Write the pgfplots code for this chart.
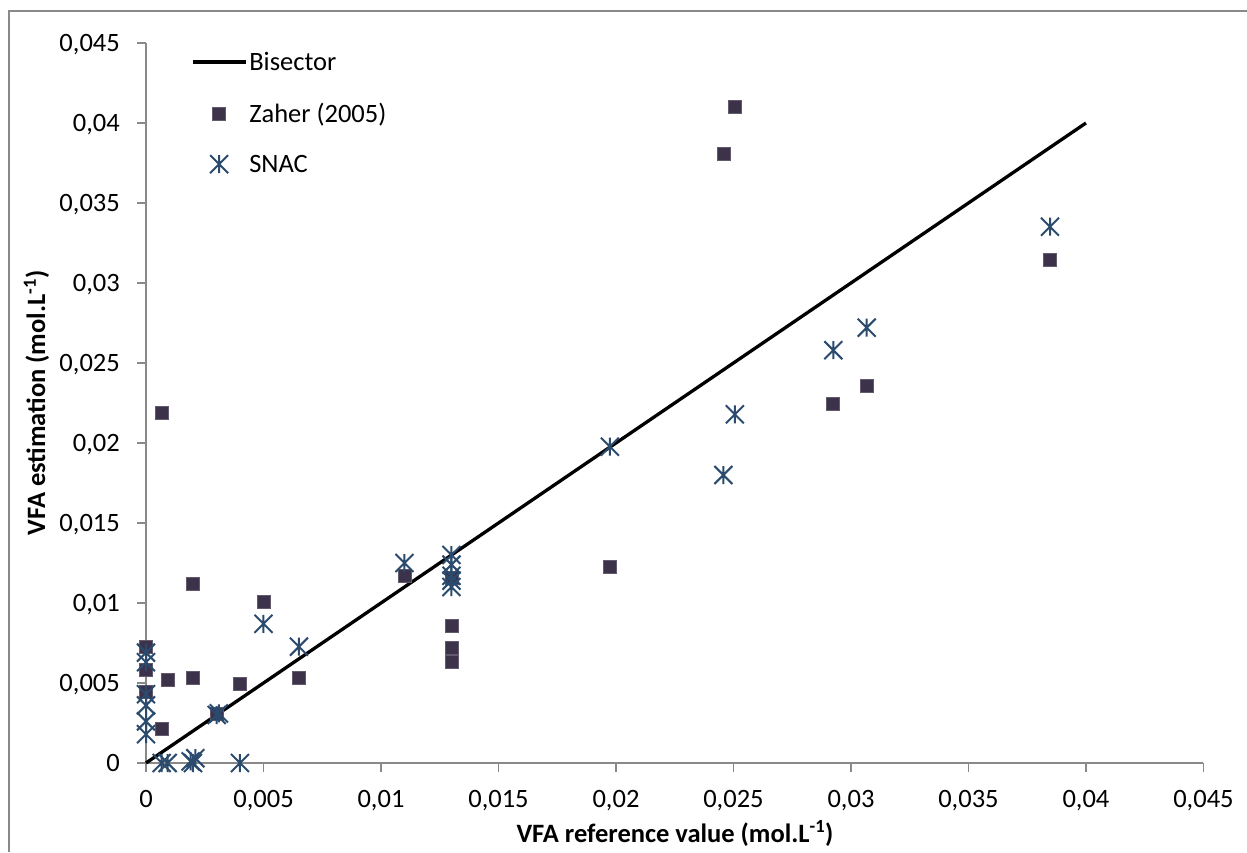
\documentclass[border=0pt]{standalone}
\usepackage{fontspec}
\setmainfont{Carlito}
\usepackage{pgfplots}
\pgfplotsset{compat=1.18}

\definecolor{zaher}{HTML}{3C3249}
\definecolor{snac}{HTML}{2A4A6E}
\definecolor{axisgray}{HTML}{898989}

\newcommand\chartfont{\fontsize{26.5}{31}\selectfont}

% Excel-like star: an X with a vertical bar
\pgfdeclareplotmark{xstar}{%
  \pgfpathmoveto{\pgfqpoint{-\pgfplotmarksize}{-\pgfplotmarksize}}%
  \pgfpathlineto{\pgfqpoint{\pgfplotmarksize}{\pgfplotmarksize}}%
  \pgfpathmoveto{\pgfqpoint{-\pgfplotmarksize}{\pgfplotmarksize}}%
  \pgfpathlineto{\pgfqpoint{\pgfplotmarksize}{-\pgfplotmarksize}}%
  \pgfpathmoveto{\pgfqpoint{0pt}{-\pgfplotmarksize}}%
  \pgfpathlineto{\pgfqpoint{0pt}{\pgfplotmarksize}}%
  \pgfusepathqstroke}

\begin{document}
\begin{tikzpicture}
\useasboundingbox (0pt,0pt) rectangle (1247pt,852pt);
\fill[white] (0pt,0pt) rectangle (1247pt,852pt);
\draw[axisgray, line width=1.5pt] (9pt,0pt) -- (9pt,841pt) -- (1247pt,841pt);

\begin{axis}[
    at={(146pt,89pt)}, anchor=south west,
    scale only axis,
    width=1057.5pt, height=720pt,
    xmin=0, xmax=0.045, ymin=0, ymax=0.045,
    enlargelimits=false,
    scaled ticks=false,
    axis lines=left,
    axis line style={-, draw=axisgray, line width=1.5pt},
    tick style={draw=axisgray, line width=1.5pt},
    tick align=outside,
    major tick length=9pt,
    clip=false,
    xtick={0,0.005,...,0.045},
    ytick={0,0.005,...,0.045},
    xticklabels={0,{0,005},{0,01},{0,015},{0,02},{0,025},{0,03},{0,035},{0,04},{0,045}},
    yticklabels={0,{0,005},{0,01},{0,015},{0,02},{0,025},{0,03},{0,035},{0,04},{0,045}},
    tick label style={font=\chartfont, inner sep=0pt},
    xticklabel style={anchor=north, yshift=-18pt},
    yticklabel style={anchor=east, text depth=0pt, xshift=-17pt},
    legend cell align=left,
    legend style={at={(axis description cs:0.0395,0.993)}, anchor=north west,
        draw=none, fill=none, font=\chartfont, row sep=27pt,
        nodes={inner sep=2pt}},
    legend image code/.code={%
        \draw[mark repeat=2, mark phase=2, #1]
        plot coordinates {(0pt,0pt) (26.5pt,0pt) (53pt,0pt)};},
]
\addplot[black, line width=3.3pt] coordinates {(0,0) (0.04,0.04)};
\addlegendentry{Bisector}

\addplot[only marks, mark=square*, mark size=6.5pt,
    mark options={fill=zaher, draw=zaher!80!white, line width=0.8pt}] coordinates {
(0,0.00727)
(0,0.00581)
(0,0.00442)
(0.00092,0.00517)
(0.00067,0.00212)
(0.00069,0.0219)
(0.00201,0.01118)
(0.00201,0.00533)
(0.0040,0.00493)
(0.00301,0.0031)
(0.0050,0.01006)
(0.00651,0.00533)
(0.0110,0.01169)
(0.0130,0.01154)
(0.0130,0.0086)
(0.0130,0.0072)
(0.0130,0.00633)
(0.01974,0.01225)
(0.0246,0.03806)
(0.02508,0.04102)
(0.02925,0.02246)
(0.03067,0.02356)
(0.03847,0.03144)
};
\addlegendentry{Zaher (2005)}

\addplot[only marks, mark=xstar, mark size=9pt,
    mark options={draw=snac, line width=2pt}] coordinates {
(0,0.0069)
(0,0.0063)
(0,0.0043)
(0,0.0036)
(0,0.0026)
(0,0.0018)
(0.00067,0)
(0.00092,0)
(0.0019,0.0001)
(0.0021,0.0003)
(0.0020,0)
(0.0040,0)
(0.00301,0.0030)
(0.0031,0.0031)
(0.0050,0.0087)
(0.00651,0.00727)
(0.0110,0.0125)
(0.0130,0.0130)
(0.0130,0.0124)
(0.0130,0.0117)
(0.0130,0.0114)
(0.0130,0.0110)
(0.01974,0.01977)
(0.02457,0.0180)
(0.02506,0.02179)
(0.02925,0.0258)
(0.03067,0.02721)
(0.03847,0.03352)
};
\addlegendentry{SNAC}
\end{axis}

\node[font=\chartfont\bfseries, anchor=base] at (675pt,10pt)
    {VFA reference value (mol.L\textsuperscript{-1})};
\node[font=\chartfont\bfseries, anchor=base, rotate=90] at (45pt,449pt)
    {VFA estimation (mol.L\textsuperscript{-1})};
\end{tikzpicture}
\end{document}
